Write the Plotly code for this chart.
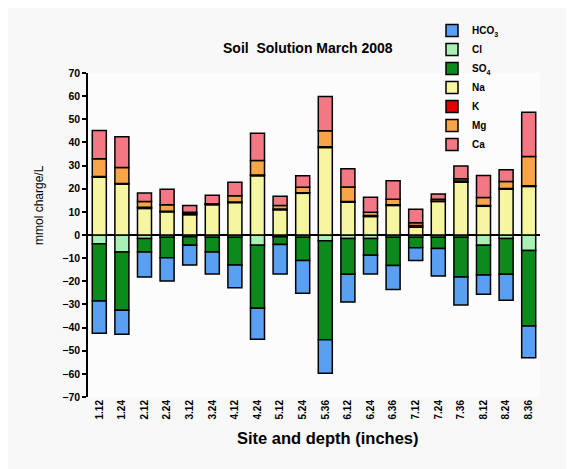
import plotly.graph_objects as go

sites = ["1.12", "1.24", "2.12", "2.24", "3.12", "3.24", "4.12", "4.24", "5.12", "5.24",
         "5.36", "6.12", "6.24", "6.36", "7.12", "7.24", "7.36", "8.12", "8.24", "8.36"]

# anions (plotted as negative charge)
hco3 = [14.0, 10.4, 10.9, 10.1, 8.6, 9.5, 9.8, 13.3, 12.7, 14.2, 14.4, 12.0, 8.1, 10.3, 5.5, 11.9, 12.0, 8.3, 11.2, 13.7]
cl   = [3.8, 7.3, 1.5, 1.0, 0.8, 1.0, 1.0, 4.4, 0.8, 1.0, 2.5, 1.5, 1.5, 1.0, 1.0, 1.0, 1.0, 4.4, 1.5, 6.7]
so4  = [24.7, 25.2, 5.8, 8.8, 3.6, 6.3, 12.0, 27.3, 3.3, 10.0, 42.8, 15.5, 7.2, 12.2, 4.5, 4.8, 17.2, 12.9, 15.5, 32.6]

# cations
na = [25.0, 22.0, 11.5, 10.0, 8.8, 13.1, 14.0, 25.6, 10.9, 18.0, 37.8, 14.2, 8.0, 12.8, 3.3, 14.5, 22.8, 12.4, 19.8, 21.0]
k  = [0.3, 0.3, 0.5, 0.3, 0.4, 0.2, 0.3, 0.3, 0.3, 0.3, 0.3, 0.3, 0.4, 0.3, 0.8, 0.2, 0.5, 0.3, 0.3, 0.3]
mg = [7.7, 6.9, 2.5, 2.8, 0.6, 0.2, 2.7, 6.3, 1.6, 2.3, 6.9, 6.2, 1.4, 2.4, 1.2, 0.8, 1.0, 3.5, 3.0, 12.6]
ca = [12.2, 13.3, 3.6, 6.7, 3.0, 3.7, 5.8, 11.8, 3.9, 5.0, 14.8, 7.9, 6.5, 7.9, 5.8, 2.2, 5.5, 9.5, 5.1, 19.1]

colors = {
    "HCO3": "#5aa0f2",
    "Cl": "#a8f0b4",
    "SO4": "#0c8a1c",
    "Na": "#f6f6a0",
    "K": "#e40000",
    "Mg": "#f8a548",
    "Ca": "#f47884",
}

line = dict(color="black", width=1.5)

fig = go.Figure()

def add(name, label, vals, sign, rank):
    fig.add_trace(go.Bar(
        x=sites, y=[sign * v for v in vals], name=label,
        marker=dict(color=colors[name], line=line),
        legendrank=rank,
    ))

# negative stack: Cl nearest zero, then SO4, then HCO3
add("Cl", "Cl", cl, -1, 2)
add("SO4", "SO<sub>4</sub>", so4, -1, 3)
add("HCO3", "HCO<sub>3</sub>", hco3, -1, 1)
# positive stack
add("Na", "Na", na, 1, 4)
add("K", "K", k, 1, 5)
add("Mg", "Mg", mg, 1, 6)
add("Ca", "Ca", ca, 1, 7)

# plot area (in screenshot pixels): x 88..540, y 73..397
fig.update_layout(
    width=574, height=469,
    barmode="relative", bargap=0.38,
    margin=dict(l=80, r=42, t=65, b=80, autoexpand=False),
    paper_bgcolor="#f8f8f8", plot_bgcolor="#fcfcfc",
    font=dict(family="Liberation Sans, Arial, sans-serif", color="black"),
    showlegend=True,
    legend=dict(
        x=(432 - 88) / 452, xanchor="left", y=1 + (73 - 16) / 324, yanchor="top",
        bgcolor="rgba(0,0,0,0)", font=dict(size=10, weight="bold"),
        tracegroupgap=0, itemwidth=30,
    ),
    annotations=[
        dict(text="<b>Soil  Solution March 2008</b>", xref="paper", yref="paper",
             x=(308 - 88) / 452, y=1 + (73 - 48) / 324, xanchor="center", yanchor="middle",
             showarrow=False, font=dict(size=14)),
        dict(text="<b>Site and depth (inches)</b>", xref="paper", yref="paper",
             x=(328 - 88) / 452, y=-(438 - 397) / 324, xanchor="center", yanchor="middle",
             showarrow=False, font=dict(size=16.5)),
        dict(text="mmol charge/L", xref="paper", yref="paper",
             x=-(88 - 39) / 452, y=(397 - 205) / 324, xanchor="center", yanchor="middle",
             textangle=-90, showarrow=False, font=dict(size=12)),
    ],
)

fig.update_xaxes(
    range=[-0.5, 19.5], showline=False, ticks="", showgrid=False,
    tickangle=-90, tickfont=dict(size=10, weight="bold"),
)
fig.update_yaxes(
    range=[-70, 70], dtick=10, showline=True, linecolor="black", linewidth=1.5,
    ticks="outside", ticklen=4, tickwidth=1.5, tickcolor="black",
    showgrid=False, zeroline=True, zerolinecolor="black", zerolinewidth=1.5,
    tickfont=dict(size=10.5, weight="bold"),
)

fig.write_html("out.html")
